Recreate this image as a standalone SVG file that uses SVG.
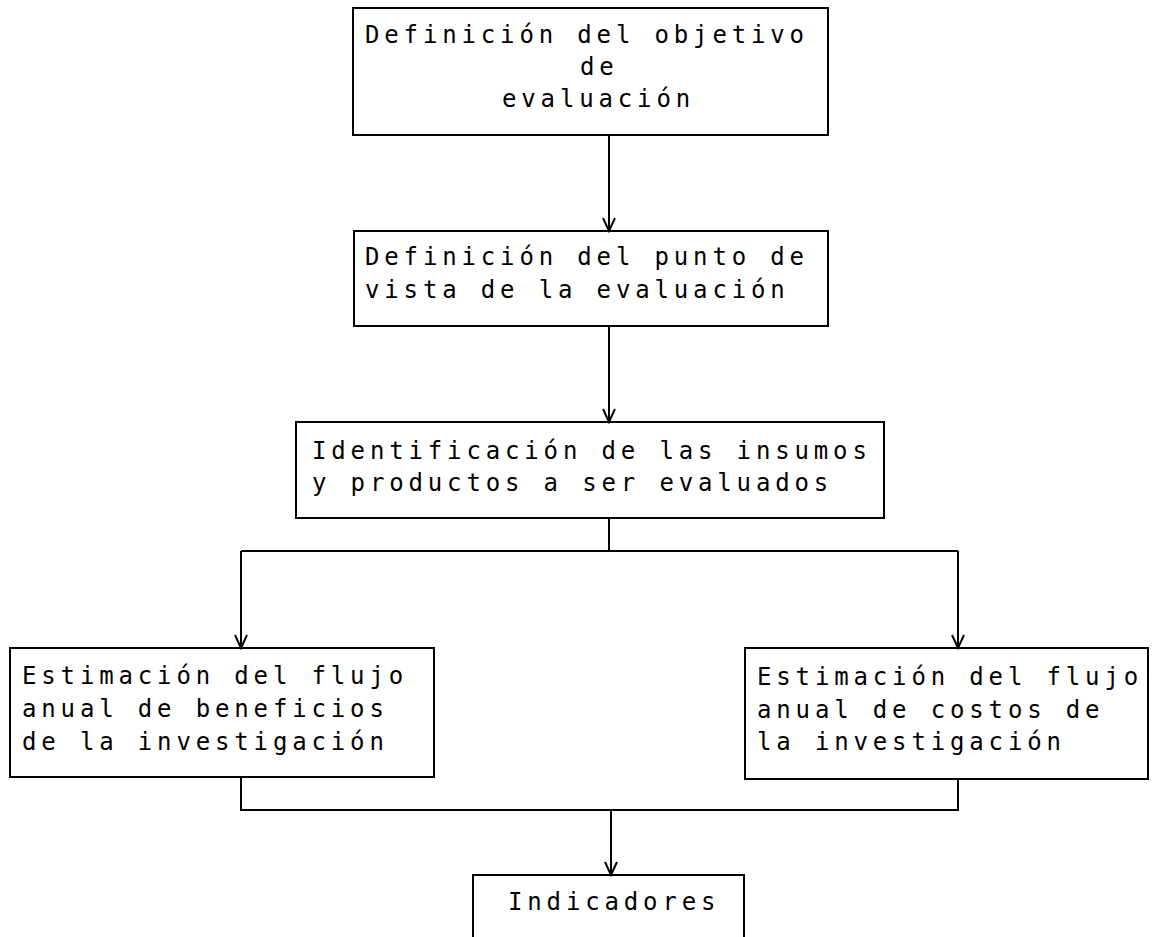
<svg xmlns="http://www.w3.org/2000/svg" width="1152" height="937" viewBox="0 0 1152 937">
<style>
.box{fill:none;stroke:#000;stroke-width:2}
.t{font-family:"DejaVu Sans Mono","Liberation Mono",monospace;font-size:24px;letter-spacing:4.85px;fill:#000}
.c{fill:none;stroke:#000;stroke-width:2}
</style>
<defs>
<marker id="v" viewBox="-16 -8 18 16" markerWidth="18" markerHeight="16" refX="0" refY="0" orient="auto" markerUnits="userSpaceOnUse">
<path d="M-13,-6 L0,0 L-13,6" fill="none" stroke="#000" stroke-width="2"/>
</marker>
</defs>
<rect width="1152" height="937" fill="#fff"/>
<g id="connectors">
<path class="c" d="M609,135 V231" marker-end="url(#v)"/>
<path class="c" d="M609,326 V422" marker-end="url(#v)"/>
<path class="c" d="M609,518 V551 M241,551 H958"/>
<path class="c" d="M241,551 V648" marker-end="url(#v)"/>
<path class="c" d="M958,551 V648" marker-end="url(#v)"/>
<path class="c" d="M241,777 V810 H958 V779"/>
<path class="c" d="M611,810 V875" marker-end="url(#v)"/>
</g>
<g id="n1">
<rect class="box" x="353" y="8" width="475" height="127"/>
<text class="t" x="365" y="43">Definición del objetivo</text>
<text class="t" x="580" y="75">de</text>
<text class="t" x="502" y="107">evaluación</text>
</g>
<g id="n2">
<rect class="box" x="354" y="231" width="474" height="95"/>
<text class="t" x="365" y="265">Definición del punto de</text>
<text class="t" x="365" y="298">vista de la evaluación</text>
</g>
<g id="n3">
<rect class="box" x="296" y="422" width="588" height="96"/>
<text class="t" x="312" y="459">Identificación de las insumos</text>
<text class="t" x="312" y="491">y productos a ser evaluados</text>
</g>
<g id="n4">
<rect class="box" x="10" y="648" width="424" height="129"/>
<text class="t" x="22" y="684">Estimación del flujo</text>
<text class="t" x="22" y="717">anual de beneficios</text>
<text class="t" x="22" y="750">de la investigación</text>
</g>
<g id="n5">
<rect class="box" x="745" y="648" width="403" height="131"/>
<text class="t" x="757" y="685">Estimación del flujo</text>
<text class="t" x="757" y="718">anual de costos de</text>
<text class="t" x="757" y="750">la investigación</text>
</g>
<g id="n6">
<rect class="box" x="473" y="875" width="271" height="75"/>
<text class="t" x="508" y="910">Indicadores</text>
</g>
</svg>
